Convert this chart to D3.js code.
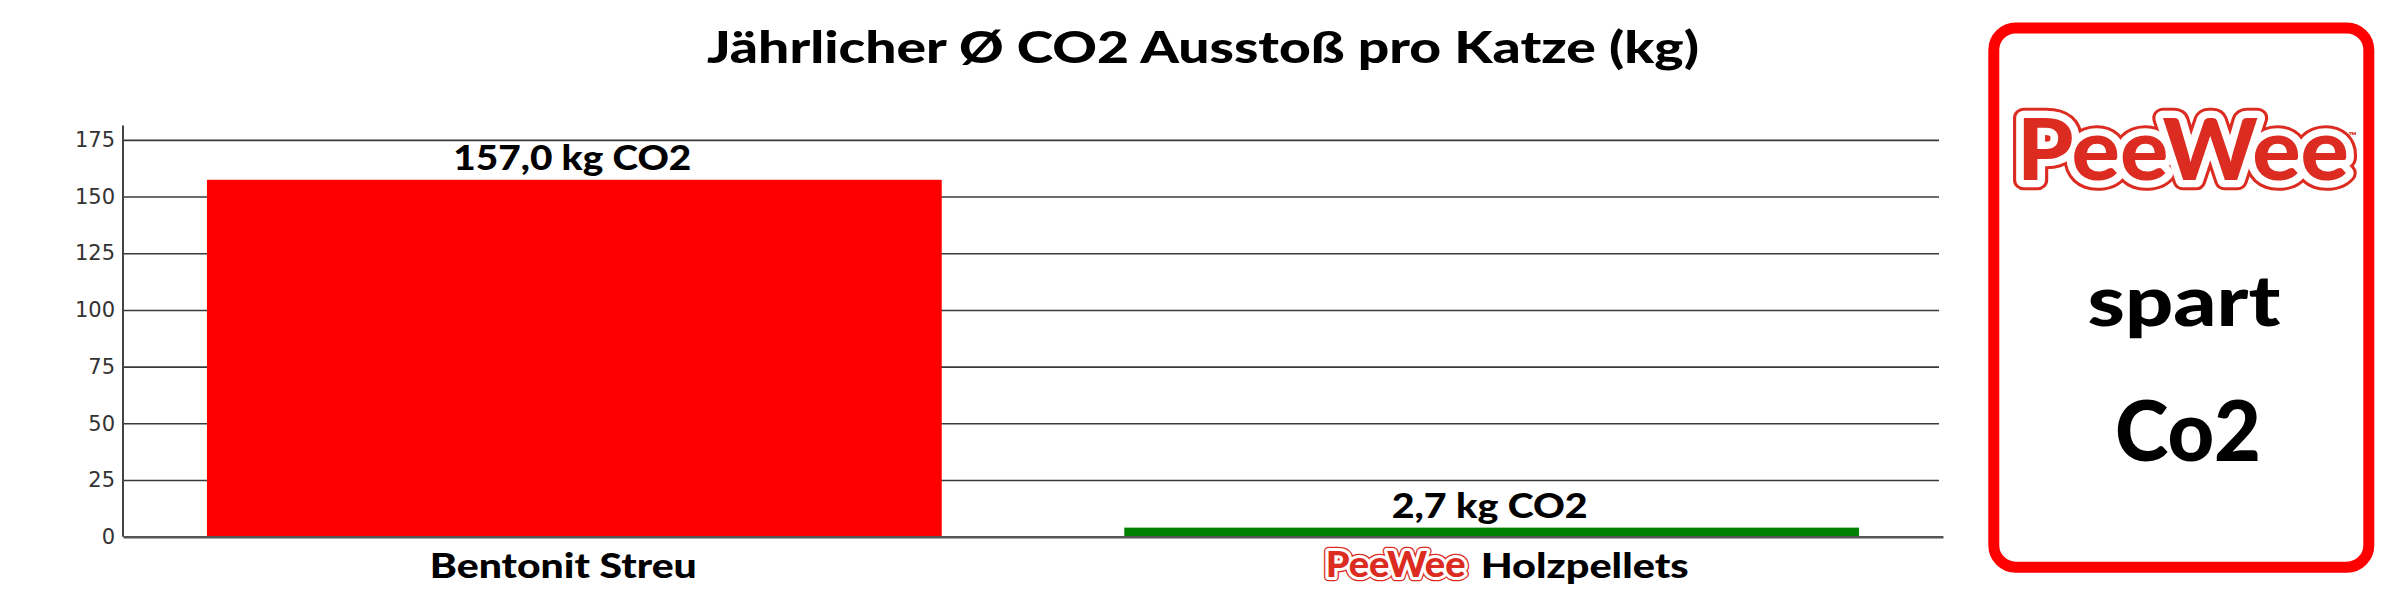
<!DOCTYPE html>
<html>
<head>
<meta charset="utf-8">
<script src="https://cdn.jsdelivr.net/npm/d3@7"></script>
<style>
  body { margin: 0; background: #fff; }
  text { font-family: Lato, 'Open Sans', sans-serif; }
</style>
</head>
<body>
<svg id="chart" width="2400" height="600"></svg>
<script>
'use strict';

// data
const categories = ['Bentonit Streu', 'Holzpellets'];
const barValues = [157.4, 4.0];
const valueLabels = ['157,0 kg CO2', '2,7 kg CO2'];
const barColors = ['#ff0000', '#008000'];
const yTicks = [0, 25, 50, 75, 100, 125, 150, 175];
const yMax = 181.3;
const titleText = 'Jährlicher Ø CO2 Ausstoß pro Katze (kg)';
const panelLines = ['spart', 'Co2'];

const svg = d3.select('#chart');
const margin = { top: 125.6, right: 457, bottom: 63.3, left: 123 };
const width = 2400 - margin.left - margin.right;
const height = 600 - margin.top - margin.bottom;

const logoRed = '#dc2b20';
const heavy = 900;

// draw the PeeWee word mark: red outline, white halo, red fill
function drawLogo(sel, x, y, size, len, anchor) {
  const lg = sel.append('g').attr('transform', 'translate(' + x + ',' + y + ')');
  const layers = [
    { stroke: logoRed, sw: size * 0.24 },
    { stroke: '#fff', sw: size * 0.17 },
    { stroke: 'none', sw: 0 },
  ];
  layers.forEach(function(l) {
    lg.append('text')
      .attr('text-anchor', anchor)
      .attr('textLength', len)
      .attr('lengthAdjust', 'spacingAndGlyphs')
      .style('font-family', 'Lato, sans-serif')
      .style('font-weight', 900)
      .style('font-size', size + 'px')
      .attr('fill', logoRed)
      .attr('stroke', l.stroke)
      .attr('stroke-width', l.sw)
      .attr('stroke-linejoin', 'round')
      .text('PeeWee');
  });
  return lg;
}

// title
svg.append('text')
  .attr('x', 1203)
  .attr('y', 63.3)
  .attr('text-anchor', 'middle')
  .attr('textLength', 992)
  .attr('lengthAdjust', 'spacingAndGlyphs')
  .style('font-weight', heavy)
  .style('font-size', '44px')
  .attr('fill', '#000')
  .text(titleText);

const g = svg.append('g')
  .attr('transform', 'translate(' + margin.left + ',' + margin.top + ')');

const xScale = d3.scaleBand()
  .domain(categories)
  .range([0, width])
  .paddingInner(0.199)
  .paddingOuter(0.0915);

const yScale = d3.scaleLinear()
  .domain([0, yMax])
  .range([height, 0]);

// y axis with gridlines
g.append('g')
  .attr('class', 'y axis')
  .call(d3.axisLeft(yScale).tickValues(yTicks).tickSize(-(width - 4)).tickPadding(8))
  .call((a) => {
    a.select('.domain').remove();
    a.selectAll('line')
      .attr('stroke', '#3a3a3a')
      .attr('stroke-width', 1.6);
    a.selectAll('.tick')
      .filter((d) => d === 0)
      .select('line')
      .remove();
    a.selectAll('text')
      .attr('fill', '#333')
      .style('font-family', 'DejaVu Sans, sans-serif')
      .style('font-size', '21px');
  });

// left spine
g.append('line')
  .attr('x1', 0)
  .attr('x2', 0)
  .attr('y1', 0)
  .attr('y2', height)
  .attr('stroke', '#444')
  .attr('stroke-width', 2);

// bars
g.selectAll('.bar')
  .data(categories)
  .enter()
  .append('rect')
  .attr('class', 'bar')
  .attr('x', (d) => xScale(d))
  .attr('width', xScale.bandwidth())
  .attr('y', (d, i) => yScale(barValues[i]))
  .attr('height', (d, i) => height - yScale(barValues[i]))
  .attr('fill', (d, i) => barColors[i]);

// value labels
g.selectAll('.value-label')
  .data(categories)
  .enter()
  .append('text')
  .attr('class', 'value-label')
  .attr('x', (d) => xScale(d) + xScale.bandwidth() / 2 - 2)
  .attr('y', (d, i) => yScale(barValues[i]) - 10)
  .attr('text-anchor', 'middle')
  .attr('textLength', (d, i) => (i === 0 ? 238 : 196))
  .attr('lengthAdjust', 'spacingAndGlyphs')
  .style('font-weight', heavy)
  .style('font-size', '34px')
  .attr('fill', '#000')
  .text((d, i) => valueLabels[i]);

// x axis
g.append('g')
  .attr('class', 'x axis')
  .attr('transform', 'translate(0,' + height + ')')
  .call(d3.axisBottom(xScale).tickSize(0).tickFormat(''))
  .call((a) => {
    a.select('.domain')
      .attr('stroke', '#555')
      .attr('stroke-width', 2.6);
  });

// category labels
const cx0 = xScale(categories[0]) + xScale.bandwidth() / 2;
svg.append('text')
  .attr('x', margin.left + cx0 - 11)
  .attr('y', 577.7)
  .attr('text-anchor', 'middle')
  .attr('textLength', 267)
  .attr('lengthAdjust', 'spacingAndGlyphs')
  .style('font-weight', heavy)
  .style('font-size', '34px')
  .attr('fill', '#000')
  .text(categories[0]);

const cx1 = margin.left + xScale(categories[1]) + xScale.bandwidth() / 2;
drawLogo(svg, cx1 - 26, 577, 36, 140, 'end');
svg.append('text')
  .attr('x', cx1 - 11)
  .attr('y', 577.7)
  .attr('textLength', 208)
  .attr('lengthAdjust', 'spacingAndGlyphs')
  .style('font-weight', heavy)
  .style('font-size', '34px')
  .attr('fill', '#000')
  .text(categories[1]);

// right panel
const panel = svg.append('g');
panel.append('rect')
  .attr('x', 1993.8)
  .attr('y', 28)
  .attr('width', 375)
  .attr('height', 539.2)
  .attr('rx', 22)
  .attr('fill', '#fff')
  .attr('stroke', '#ff0000')
  .attr('stroke-width', 11);

drawLogo(panel, 2183, 180, 86, 332, 'middle');
panel.append('text')
  .attr('x', 2357)
  .attr('y', 140)
  .attr('text-anchor', 'end')
  .style('font-size', '11px')
  .style('font-weight', 700)
  .attr('fill', logoRed)
  .text('™');

panel.selectAll('.panel-line')
  .data(panelLines)
  .enter()
  .append('text')
  .attr('class', 'panel-line')
  .attr('x', (d, i) => (i === 0 ? 2184 : 2188))
  .attr('y', (d, i) => (i === 0 ? 326 : 461))
  .attr('text-anchor', 'middle')
  .attr('textLength', (d, i) => (i === 0 ? 193 : 146))
  .attr('lengthAdjust', 'spacingAndGlyphs')
  .style('font-weight', heavy)
  .style('font-size', (d, i) => (i === 0 ? '70px' : '84px'))
  .attr('fill', '#000')
  .text((d) => d);
</script>
</body>
</html>
